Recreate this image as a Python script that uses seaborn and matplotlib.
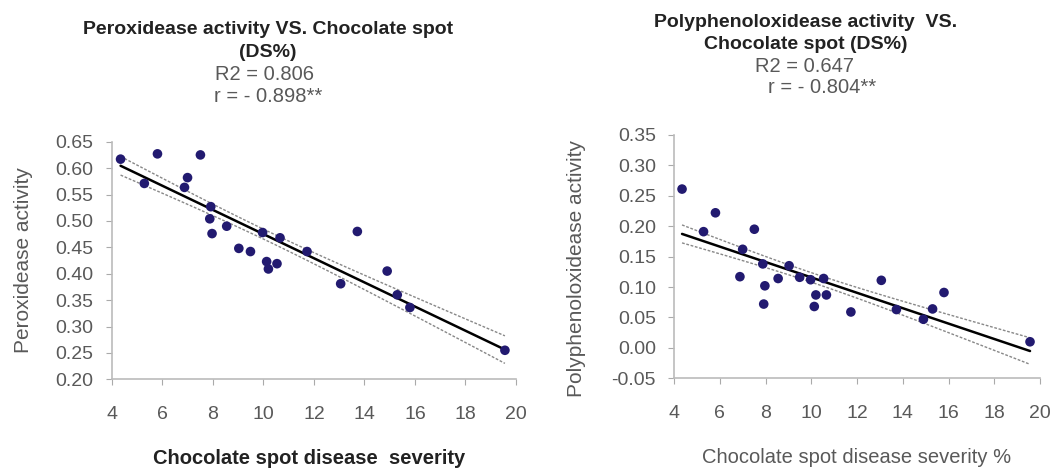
import numpy as np
import pandas as pd
import seaborn as sns
import matplotlib.pyplot as plt

# data
severity = [4.35, 5.29, 5.81, 6.88, 7.00, 7.51, 7.88, 7.92, 7.97, 8.55, 9.03, 9.49,
            9.97, 10.13, 10.2, 10.54, 10.66, 11.73, 13.06, 13.72, 14.9, 15.3, 15.8, 19.56]
peroxidase = [0.617, 0.571, 0.627, 0.5635, 0.582, 0.625, 0.504, 0.527, 0.476, 0.490, 0.448, 0.442,
              0.478, 0.423, 0.409, 0.419, 0.468, 0.442, 0.381, 0.480, 0.405, 0.360, 0.336, 0.255]
polyphenol = [0.261, 0.191, 0.222, 0.117, 0.162, 0.195, 0.138, 0.072, 0.102, 0.114, 0.135, 0.116,
              0.112, 0.068, 0.087, 0.114, 0.087, 0.059, 0.111, 0.063, 0.047, 0.064, 0.091, 0.010]
x_ticks = [4, 6, 8, 10, 12, 14, 16, 18, 20]

df = pd.DataFrame({"sev": severity, "pod": peroxidase, "ppo": polyphenol})

sns.set_style("white")
plt.rcParams['font.family'] = ['Liberation Sans', 'DejaVu Sans']

fig = plt.figure(figsize=(10.54, 4.68), dpi=100)
ax1 = fig.add_axes([0.106, 0.1895, 0.3836, 0.5077])
ax2 = fig.add_axes([0.6395, 0.1917, 0.3473, 0.52])

dot = "#221a70"
grey = "#595959"
band_k = 1.08  # width of the dashed band in standard errors


def panel(ax, col, ylim, yticks, ylabel):
    sns.regplot(data=df, x="sev", y=col, ax=ax, ci=None, truncate=True,
                scatter_kws=dict(s=48, color=dot, edgecolor="none", zorder=3, alpha=1),
                line_kws=dict(color="black", lw=1.8, zorder=2))
    # confidence band as dashed lines
    x = df["sev"].to_numpy()
    y = df[col].to_numpy()
    b, a = np.polyfit(x, y, 1)
    n = len(x)
    res = y - (a + b * x)
    s = np.sqrt((res ** 2).sum() / (n - 2))
    xs = np.linspace(x.min(), x.max(), 100)
    se = s * np.sqrt(1 / n + (xs - x.mean()) ** 2 / ((x - x.mean()) ** 2).sum())
    fit = a + b * xs
    for sign in (1, -1):
        ax.plot(xs, fit + sign * band_k * se, ls=(0, (2, 1.2)), color="#888888", lw=1, zorder=1)
    ax.set_xlim(4, 20)
    ax.set_ylim(*ylim)
    ax.set_xticks(x_ticks)
    ax.set_yticks(yticks)
    ax.set_yticklabels([f"{v:.2f}" for v in yticks])
    ax.set_xlabel("")
    ax.set_ylabel(ylabel, fontsize=15, color=grey)
    ax.tick_params(axis="both", labelsize=14, labelcolor=grey, color="#aaaaaa",
                   direction="out", length=4, left=True, bottom=True)
    ax.tick_params(axis="y", pad=9)
    ax.tick_params(axis="x", pad=15)
    for side in ("top", "right"):
        ax.spines[side].set_visible(False)
    for side in ("left", "bottom"):
        ax.spines[side].set_color("#bbbbbb")
        ax.spines[side].set_linewidth(1.2)


panel(ax1, "pod", (0.20, 0.65), np.arange(0.20, 0.651, 0.05), "Peroxidease activity")
panel(ax2, "ppo", (-0.05, 0.35), np.arange(-0.05, 0.351, 0.05), "Polyphenoloxidease activity")
ax1.yaxis.set_label_coords(-0.195, 0.5)
ax2.yaxis.set_label_coords(-0.24, 0.45)

# titles and stats
fig.text(0.254, 0.913, "Peroxidease activity VS. Chocolate spot\n(DS%)", ha="center", va="center",
         fontsize=14, fontweight="bold", color="#222222", linespacing=1.45)
fig.text(0.251, 0.840, "R2 = 0.806", ha="center", va="center", fontsize=14.5, color=grey)
fig.text(0.254, 0.793, "r = - 0.898**", ha="center", va="center", fontsize=14.5, color=grey)

fig.text(0.764, 0.929, "Polyphenoloxidease activity  VS.\nChocolate spot (DS%)", ha="center", va="center",
         fontsize=14, fontweight="bold", color="#222222", linespacing=1.4)
fig.text(0.763, 0.857, "R2 = 0.647", ha="center", va="center", fontsize=14.5, color=grey)
fig.text(0.78, 0.812, "r = - 0.804**", ha="center", va="center", fontsize=14.5, color=grey)

fig.text(0.293, 0.021, "Chocolate spot disease  severity", ha="center", va="center",
         fontsize=14.5, fontweight="bold", color="#222222")
fig.text(0.813, 0.023, "Chocolate spot disease severity %", ha="center", va="center",
         fontsize=14.5, color=grey)

fig.savefig("out.png", dpi=100)
